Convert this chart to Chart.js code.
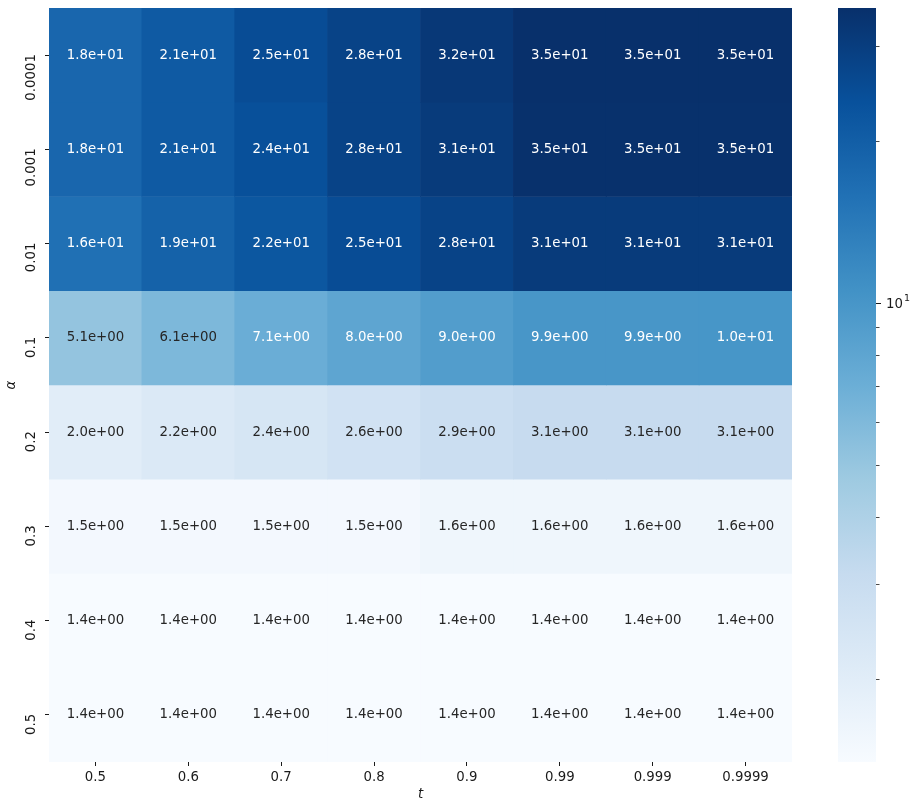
<!DOCTYPE html>
<html>
<head>
<meta charset="utf-8">
<script src="https://cdn.jsdelivr.net/npm/chart.js@4.4.1/dist/chart.umd.min.js"></script>
<style>
  html, body { margin: 0; padding: 0; background: #fff; }
  #wrap { position: relative; width: 910px; height: 801px; }
  #heat { position: absolute; left: 0; top: 0; }
  #cbar { position: absolute; left: 820px; top: 0; }
</style>
</head>
<body>
<div id="wrap">
  <canvas id="heat" width="820" height="801"></canvas>
  <canvas id="cbar" width="90" height="801"></canvas>
</div>
<script>
// 列: t，行: α
const T_LABELS = ['0.5', '0.6', '0.7', '0.8', '0.9', '0.99', '0.999', '0.9999'];
const ALPHA_LABELS = ['0.0001', '0.001', '0.01', '0.1', '0.2', '0.3', '0.4', '0.5'];

// 每行数值（读自图中标注，最大值按色条位置估为 35.3）
const ROW_A0001 = [18, 21, 25, 28, 32, 35.3, 35.3, 35.3];
const ROW_A001  = [18, 21, 24, 28, 31, 35, 35, 35];
const ROW_A01   = [16, 19, 22, 25, 28, 31, 31, 31];
const ROW_A1    = [5.1, 6.1, 7.1, 8.0, 9.0, 9.9, 9.9, 10];
const ROW_A2    = [2.0, 2.2, 2.4, 2.6, 2.9, 3.1, 3.1, 3.1];
const ROW_A3    = [1.5, 1.5, 1.5, 1.5, 1.6, 1.6, 1.6, 1.6];
const ROW_A4    = [1.4, 1.4, 1.4, 1.4, 1.4, 1.4, 1.4, 1.4];
const ROW_A5    = [1.4, 1.4, 1.4, 1.4, 1.4, 1.4, 1.4, 1.4];
const ROWS = [ROW_A0001, ROW_A001, ROW_A01, ROW_A1, ROW_A2, ROW_A3, ROW_A4, ROW_A5];

// 色条刻度
const CB_TICKS = [2, 3, 4, 5, 6, 7, 8, 9, 10, 20, 30];
const CB_MAJOR = [10];

const FONT = "'DejaVu Sans', sans-serif";
const INK = '#1a1a1a';

// matplotlib Blues
const BLUES = ['#f7fbff', '#deebf7', '#c6dbef', '#9ecae1', '#6baed6',
               '#4292c6', '#2171b5', '#08519c', '#08306b'];
const BLUES_RGB = BLUES.map(h => [1, 3, 5].map(k => parseInt(h.slice(k, k + 2), 16)));

const allVals = ROWS.flat();
const VMIN = Math.min(...allVals);
const VMAX = Math.max(...allVals);

function cmap(v) {
  const t = (Math.log(v) - Math.log(VMIN)) / (Math.log(VMAX) - Math.log(VMIN));
  const p = Math.max(0, Math.min(1, t)) * (BLUES_RGB.length - 1);
  const i = Math.min(Math.floor(p), BLUES_RGB.length - 2);
  const f = p - i;
  return BLUES_RGB[i].map((c, k) => c + (BLUES_RGB[i + 1][k] - c) * f);
}

const toCss = rgb => 'rgb(' + rgb.map(Math.round).join(',') + ')';

// seaborn 的文字颜色判断
function textColor(v) {
  const lin = cmap(v).map(c => {
    c /= 255;
    return c <= 0.03928 ? c / 12.92 : Math.pow((c + 0.055) / 1.055, 2.4);
  });
  const lum = 0.2126 * lin[0] + 0.7152 * lin[1] + 0.0722 * lin[2];
  return lum > 0.408 ? '#262626' : '#ffffff';
}

// 1.8e+01 格式
function fmt(v) {
  const [m, e] = v.toExponential(1).split('e');
  const n = parseInt(e, 10);
  return m + 'e' + (n < 0 ? '-' : '+') + String(Math.abs(n)).padStart(2, '0');
}

// 去掉 Chart.js 为首末刻度标签预留的边距
function noPad(s) {
  s.paddingTop = 0;
  s.paddingBottom = 0;
  s.paddingLeft = 0;
  s.paddingRight = 0;
}

Chart.defaults.font.family = FONT;
Chart.defaults.font.size = 13.3;
Chart.defaults.color = INK;

const cellText = {
  id: 'cellText',
  afterDatasetsDraw(chart) {
    const { ctx, scales: { x, y } } = chart;
    ctx.save();
    ctx.font = '13.3px ' + FONT;
    ctx.textAlign = 'center';
    ctx.textBaseline = 'middle';
    ROWS.forEach((row, i) => row.forEach((v, j) => {
      ctx.fillStyle = textColor(v);
      ctx.fillText(fmt(v), x.getPixelForValue(j), y.getPixelForValue(i + 0.5));
    }));
    ctx.restore();
  }
};

// y 轴标签竖排，末端对齐刻度
const yLabels = {
  id: 'yLabels',
  afterDraw(chart) {
    const { ctx, chartArea, scales: { y } } = chart;
    ctx.save();
    ctx.font = '13.3px ' + FONT;
    ctx.fillStyle = INK;
    ctx.textAlign = 'right';
    ctx.textBaseline = 'middle';
    y.ticks.forEach((t, i) => {
      ctx.save();
      ctx.translate(chartArea.left - 17, y.getPixelForValue(t.value) - 1);
      ctx.rotate(-Math.PI / 2);
      ctx.fillText(ALPHA_LABELS[i], 0, 0);
      ctx.restore();
    });
    ctx.restore();
  }
};

new Chart(document.getElementById('heat'), {
  type: 'bar',
  data: {
    labels: T_LABELS,
    datasets: ROWS.map((row, i) => ({
      label: ALPHA_LABELS[i],
      data: row.map(() => [i, i + 1]),
      backgroundColor: row.map(v => toCss(cmap(v))),
      borderWidth: 0,
      grouped: false,
      barPercentage: 1,
      categoryPercentage: 1,
    }))
  },
  options: {
    responsive: false,
    animation: false,
    events: [],
    layout: { padding: { left: 0, top: 8, right: 28, bottom: 0 } },
    plugins: { legend: { display: false }, tooltip: { enabled: false } },
    scales: {
      x: {
        offset: true,
        grid: { offset: false, drawOnChartArea: false, tickLength: 4, tickColor: INK, tickWidth: 1 },
        border: { display: false },
        ticks: { padding: 4, color: INK, maxRotation: 0, autoSkip: false },
        title: { display: true, text: 't', color: INK, font: { style: 'italic', size: 13.3, lineHeight: 1 }, padding: 0 },
        afterFit: s => { s.height = 39; noPad(s); },
      },
      y: {
        min: 0,
        max: ROWS.length,
        reverse: true,
        afterBuildTicks: s => { s.ticks = ALPHA_LABELS.map((_, i) => ({ value: i + 0.5 })); },
        grid: { drawOnChartArea: false, tickLength: 4, tickColor: INK, tickWidth: 1 },
        border: { display: false },
        ticks: { color: 'rgba(0,0,0,0)', autoSkip: false },
        title: { display: true, text: 'α', color: INK, font: { style: 'italic', size: 13.3 }, padding: { top: 4, bottom: 0 } },
        afterFit: s => { s.width = 49; noPad(s); },
      }
    }
  },
  plugins: [cellText, yLabels]
});

// 色条刻度线（主刻度长，次刻度短）和 10¹ 标签
const cbTicks = {
  id: 'cbTicks',
  afterDraw(chart) {
    const { ctx, chartArea, scales: { y } } = chart;
    ctx.save();
    ctx.strokeStyle = INK;
    y.ticks.forEach(t => {
      const major = CB_MAJOR.includes(t.value);
      const py = Math.round(y.getPixelForValue(t.value)) + 0.5;
      ctx.lineWidth = major ? 1 : 0.8;
      ctx.beginPath();
      ctx.moveTo(chartArea.right, py);
      ctx.lineTo(chartArea.right + (major ? 5 : 3.5), py);
      ctx.stroke();
      if (major) {
        const lx = chartArea.right + 10;
        ctx.fillStyle = INK;
        ctx.textAlign = 'left';
        ctx.textBaseline = 'middle';
        ctx.font = '13.3px ' + FONT;
        ctx.fillText('10', lx, py + 1);
        const w = ctx.measureText('10').width;
        ctx.font = '9.5px ' + FONT;
        ctx.fillText(String(Math.round(Math.log10(t.value))), lx + w + 1, py - 5);
      }
    });
    ctx.restore();
  }
};

new Chart(document.getElementById('cbar'), {
  type: 'bar',
  data: {
    labels: [''],
    datasets: [{
      data: [[VMIN, VMAX]],
      backgroundColor: ctx => {
        const { chart } = ctx;
        if (!chart.chartArea) return null;
        const y = chart.scales.y;
        const g = chart.ctx.createLinearGradient(0, y.getPixelForValue(VMIN), 0, y.getPixelForValue(VMAX));
        BLUES.forEach((c, k) => g.addColorStop(k / (BLUES.length - 1), c));
        return g;
      },
      borderWidth: 0,
      barPercentage: 1,
      categoryPercentage: 1,
    }]
  },
  options: {
    responsive: false,
    animation: false,
    events: [],
    layout: { padding: { left: 18, top: 8, right: 0, bottom: 39 } },
    plugins: { legend: { display: false }, tooltip: { enabled: false } },
    scales: {
      x: { display: false },
      y: {
        type: 'logarithmic',
        position: 'right',
        min: VMIN,
        max: VMAX,
        afterBuildTicks: s => { s.ticks = CB_TICKS.map(v => ({ value: v })); },
        afterFit: s => { s.width = 34; noPad(s); },
        grid: { drawOnChartArea: false, drawTicks: false },
        border: { display: false },
        ticks: { autoSkip: false, padding: 10, color: INK, callback: () => '' }
      }
    }
  },
  plugins: [cbTicks]
});
</script>
</body>
</html>
